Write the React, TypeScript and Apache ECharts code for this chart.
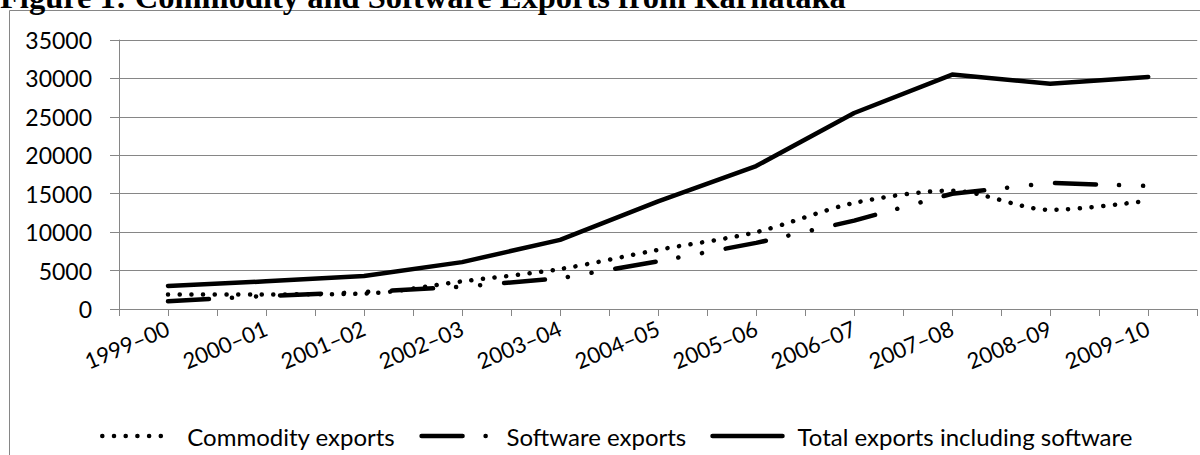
import React, { useEffect, useRef } from 'react';
import * as echarts from 'echarts';

const categories = ['1999–00', '2000–01', '2001–02', '2002–03', '2003–04', '2004–05', '2005–06', '2006–07', '2007–08', '2008–09', '2009–10'];
const commodityExports = [1900, 1900, 2000, 3600, 5200, 7700, 10000, 13800, 15400, 12900, 14100];
const softwareExports = [1000, 1700, 2200, 2900, 4000, 6200, 8600, 11500, 15000, 16400, 16000];
const totalExports = [3000, 3600, 4300, 6100, 9000, 14000, 18600, 25500, 30500, 29300, 30200];
const seriesNames = ['Commodity exports', 'Software exports', 'Total exports including software'];
const yMin = 0;
const yMax = 35000;
const yStep = 5000;
const titleText = 'Figure 1: Commodity and Software Exports from Karnataka';

const FONT = 'Lato';
const GREY = '#868686';

export default function App() {
  const ref = useRef<HTMLDivElement>(null);
  useEffect(() => {
    if (!ref.current) return;
    const chart = echarts.init(ref.current, undefined, { renderer: 'svg' });
    const toPairs = (arr: number[]) => arr.map((v, i) => [i, v]);
    chart.setOption({
      animation: false,
      backgroundColor: '#fff',
      graphic: [
        {
          type: 'rect',
          z: 0,
          shape: { x: 9.5, y: 10.5, width: 1215, height: 460 },
          style: { fill: 'none', stroke: GREY, lineWidth: 1 },
        },
        {
          type: 'text',
          z: 10,
          x: 0,
          y: -3,
          style: {
            text: titleText,
            font: 'bold 32.5px "Liberation Serif"',
            fill: '#000',
            align: 'left',
            verticalAlign: 'middle',
          },
        },
      ],
      grid: { left: 119, right: 2, top: 40, bottom: 146 },
      legend: {
        left: 95,
        top: 419,
        itemWidth: 70,
        itemHeight: 14,
        itemGap: 24,
        data: seriesNames,
        itemStyle: { opacity: 0 },
        lineStyle: { width: 4.5, cap: 'round' },
        textStyle: { fontFamily: FONT, fontSize: 24, color: '#000', padding: [0, 0, 0, 10] },
      },
      xAxis: {
        type: 'value',
        min: -0.5,
        max: categories.length - 0.5,
        interval: 0.5,
        axisLine: { show: true, onZero: false, lineStyle: { color: GREY, width: 1 } },
        axisTick: { show: true, length: 7, lineStyle: { color: GREY, width: 1 } },
        splitLine: { show: false },
        axisLabel: {
          rotate: 23,
          margin: 18,
          fontFamily: FONT,
          fontSize: 22,
          color: '#000',
          formatter: (v: number) => (Number.isInteger(v) && v >= 0 && v < categories.length ? categories[v] : ''),
        },
      },
      yAxis: {
        type: 'value',
        min: yMin,
        max: yMax,
        interval: yStep,
        axisLine: { show: true, onZero: false, lineStyle: { color: GREY, width: 1 } },
        axisTick: { show: true, length: 9, lineStyle: { color: GREY, width: 1 } },
        splitLine: { show: true, lineStyle: { color: GREY, width: 1 } },
        axisLabel: {
          margin: 27,
          fontFamily: FONT,
          fontSize: 23,
          color: '#000',
          formatter: (v: number) => String(v),
        },
      },
      series: [
        {
          name: seriesNames[0],
          type: 'line',
          symbol: 'none',
          smooth: 0.3,
          data: toPairs(commodityExports),
          lineStyle: { color: '#000', width: 4.5, type: [0.1, 11.6], cap: 'round' },
          itemStyle: { color: '#000' },
          z: 3,
        },
        {
          name: seriesNames[1],
          type: 'line',
          symbol: 'none',
          data: toPairs(softwareExports),
          lineStyle: { color: '#000', width: 4.5, type: [41, 23, 0.1, 24, 0.1, 24], cap: 'round' },
          itemStyle: { color: '#000' },
          z: 4,
        },
        {
          name: seriesNames[2],
          type: 'line',
          symbol: 'none',
          data: toPairs(totalExports),
          lineStyle: { color: '#000', width: 4.5, cap: 'round', join: 'round' },
          itemStyle: { color: '#000' },
          z: 5,
        },
      ],
    });
    return () => chart.dispose();
  }, []);
  return <div ref={ref} style={{ position: 'absolute', left: 0, top: 0, width: 1200, height: 455 }} />;
}
